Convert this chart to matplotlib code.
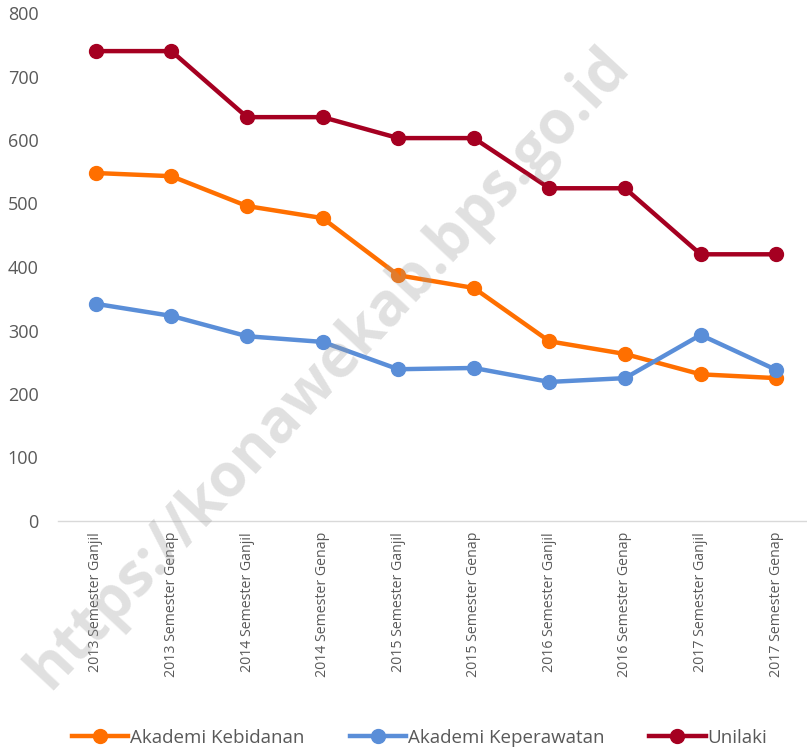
import matplotlib.pyplot as plt

categories = ["2013 Semester Ganjil", "2013 Semester Genap", "2014 Semester Ganjil",
              "2014 Semester Genap", "2015 Semester Ganjil", "2015 Semester Genap",
              "2016 Semester Ganjil", "2016 Semester Genap", "2017 Semester Ganjil",
              "2017 Semester Genap"]
kebidanan = [548, 543, 496, 477, 387, 367, 283, 263, 231, 225]
keperawatan = [342, 323, 291, 282, 239, 241, 219, 225, 293, 238]
unilaki = [740, 740, 636, 636, 603, 603, 524, 524, 420, 420]

plt.rcParams['font.family'] = ['Open Sans', 'DejaVu Sans']

fig = plt.figure(figsize=(8.07, 7.51), dpi=100)
ax = fig.add_axes([58 / 807, 1 - 521 / 751, 756 / 807, 508 / 751])

x = range(len(categories))
ax.plot(x, kebidanan, color='#FF6F00', lw=3.2, marker='o', ms=10, label='Akademi Kebidanan')
ax.plot(x, keperawatan, color='#5A8ED8', lw=3.2, marker='o', ms=10, label='Akademi Keperawatan')
ax.plot(x, unilaki, color='#A50021', lw=3.2, marker='o', ms=10, label='Unilaki')

ax.set_xlim(-0.5, 9.5)
ax.set_ylim(0, 800)
ax.set_yticks(range(0, 801, 100))
ax.set_xticks(list(x))
ax.set_xticklabels(categories, rotation=90, fontsize=10.2, color='#595959')
ax.tick_params(axis='y', labelsize=13, colors='#595959', length=0, pad=14)
ax.tick_params(axis='x', length=0, pad=8)
for s in ['top', 'right', 'left']:
    ax.spines[s].set_visible(False)
ax.spines['bottom'].set_color('#D9D9D9')
ax.spines['bottom'].set_linewidth(1)

fig.legend(loc='center', bbox_to_anchor=(0.52, 13 / 751), ncol=3, frameon=False,
           fontsize=13.5, handlelength=3.0, handletextpad=0.1, columnspacing=2.4,
           labelcolor='#595959')

fig.text(0.408, 0.51, "https://konawekab.bps.go.id", rotation=47, fontsize=43,
         fontweight='bold', color='#9a9a9a', alpha=0.3, ha='center', va='center')

fig.savefig('out.png', dpi=100)
